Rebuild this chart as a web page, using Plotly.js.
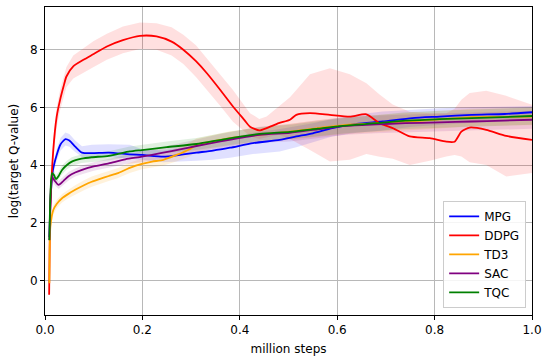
<!DOCTYPE html>
<html><head><meta charset="utf-8">
<script src="https://cdn.plot.ly/plotly-3.0.1.min.js"></script>
<style>html,body{margin:0;padding:0;background:#fff;}#chart{width:544px;height:356px;}</style>
</head><body><div id="chart"></div>
<script>
const seriesNames = ["MPG", "DDPG", "TD3", "SAC", "TQC"];
const lineColors = ["#0000ff", "#ff0000", "#ffa500", "#800080", "#008000"];
const bandColors = ["rgba(0,0,255,0.12)", "rgba(255,0,0,0.12)", "rgba(255,165,0,0.14)", "rgba(128,0,128,0.12)", "rgba(0,128,0,0.12)"];

// MPG
const mpgX  = [0.009, 0.012, 0.016, 0.024, 0.032, 0.042, 0.05, 0.062, 0.076, 0.096, 0.131, 0.174, 0.2, 0.243, 0.28, 0.311, 0.345, 0.38, 0.427, 0.482, 0.516, 0.55, 0.59, 0.64, 0.693, 0.754, 0.81, 0.876, 0.944, 1.0];
const mpgY  = [1.5, 3.0, 3.8, 4.35, 4.72, 4.9, 4.85, 4.64, 4.43, 4.41, 4.43, 4.37, 4.35, 4.29, 4.36, 4.43, 4.5, 4.6, 4.76, 4.87, 4.99, 5.10, 5.28, 5.43, 5.51, 5.63, 5.68, 5.74, 5.77, 5.83];
const mpgLo = [1.4, 2.8, 3.6, 4.15, 4.5, 4.68, 4.63, 4.45, 4.28, 4.28, 4.28, 4.22, 4.18, 4.1, 4.12, 4.15, 4.18, 4.25, 4.38, 4.47, 4.62, 4.78, 4.99, 5.12, 5.2, 5.33, 5.4, 5.47, 5.5, 5.55];
const mpgHi = [1.6, 3.2, 4.0, 4.55, 4.95, 5.13, 5.08, 4.85, 4.65, 4.7, 4.72, 4.7, 4.55, 4.5, 4.6, 4.72, 4.82, 4.95, 5.12, 5.25, 5.35, 5.45, 5.6, 5.75, 5.86, 5.93, 5.97, 6.0, 6.02, 6.05];

// DDPG
const ddpgX  = [0.0085, 0.011, 0.017, 0.024, 0.031, 0.038, 0.044, 0.058, 0.079, 0.1, 0.127, 0.16, 0.195, 0.229, 0.26, 0.284, 0.31, 0.332, 0.36, 0.386, 0.41, 0.421, 0.44, 0.455, 0.48, 0.503, 0.516, 0.544, 0.585, 0.626, 0.66, 0.687, 0.714, 0.749, 0.79, 0.824, 0.841, 0.855, 0.872, 0.906, 0.947, 1.0];
const ddpgY  = [-0.5, 2.5, 4.52, 5.68, 6.26, 6.72, 7.07, 7.42, 7.65, 7.85, 8.11, 8.33, 8.48, 8.46, 8.28, 8.0, 7.6, 7.19, 6.6, 6.03, 5.55, 5.33, 5.2, 5.28, 5.45, 5.57, 5.74, 5.80, 5.74, 5.68, 5.76, 5.45, 5.28, 4.99, 4.93, 4.81, 4.81, 5.16, 5.30, 5.22, 5.01, 4.87];
const ddpgLo = [-0.6, 2.3, 4.2, 5.3, 5.9, 6.35, 6.7, 7.0, 7.2, 7.4, 7.65, 7.88, 8.02, 8.0, 7.8, 7.5, 7.05, 6.6, 6.05, 5.5, 5.15, 5.0, 4.9, 4.95, 5.05, 4.9, 4.8, 4.52, 4.12, 4.18, 4.38, 4.29, 4.22, 4.0, 4.15, 4.3, 4.35, 4.3, 4.1, 4.0, 3.6, 3.72];
const ddpgHi = [-0.4, 2.8, 4.9, 6.0, 6.6, 7.05, 7.4, 7.8, 8.05, 8.3, 8.55, 8.8, 8.94, 8.92, 8.78, 8.52, 8.15, 7.71, 7.15, 6.6, 6.05, 5.8, 5.6, 5.68, 6.03, 6.35, 6.6, 7.15, 7.36, 7.15, 6.84, 6.45, 6.1, 5.85, 5.8, 5.8, 5.95, 6.26, 6.5, 6.58, 6.4, 6.09];

// TD3
const td3X  = [0.009, 0.0095, 0.011, 0.017, 0.024, 0.035, 0.048, 0.062, 0.08, 0.096, 0.113, 0.131, 0.15, 0.174, 0.199, 0.22, 0.243, 0.27, 0.297, 0.311, 0.345, 0.38, 0.441, 0.503, 0.56, 0.618, 0.68, 0.74, 0.81, 0.876, 0.94, 1.0];
const td3Y  = [-0.1, 1.0, 1.86, 2.44, 2.65, 2.85, 3.0, 3.14, 3.3, 3.42, 3.52, 3.62, 3.72, 3.9, 4.04, 4.12, 4.18, 4.35, 4.55, 4.70, 4.82, 4.93, 5.05, 5.16, 5.28, 5.39, 5.45, 5.51, 5.58, 5.66, 5.67, 5.68];
const td3Lo = [-0.2, 0.9, 1.7, 2.28, 2.5, 2.7, 2.85, 2.98, 3.13, 3.25, 3.35, 3.45, 3.55, 3.72, 3.85, 3.92, 3.98, 4.12, 4.3, 4.45, 4.57, 4.67, 4.78, 4.88, 4.98, 5.08, 5.14, 5.2, 5.27, 5.35, 5.37, 5.38];
const td3Hi = [0.0, 1.1, 2.0, 2.6, 2.8, 3.0, 3.15, 3.3, 3.47, 3.6, 3.7, 3.8, 3.9, 4.08, 4.23, 4.32, 4.4, 4.58, 4.78, 4.92, 5.05, 5.17, 5.3, 5.42, 5.55, 5.67, 5.74, 5.8, 5.87, 5.95, 5.97, 5.98];

// SAC
const sacX  = [0.009, 0.012, 0.0145, 0.02, 0.028, 0.038, 0.049, 0.062, 0.076, 0.1, 0.131, 0.165, 0.199, 0.24, 0.28, 0.311, 0.36, 0.441, 0.503, 0.56, 0.618, 0.68, 0.74, 0.81, 0.876, 0.94, 1.0];
const sacY  = [1.4, 3.2, 3.6, 3.45, 3.31, 3.45, 3.62, 3.74, 3.83, 3.95, 4.06, 4.2, 4.29, 4.42, 4.55, 4.66, 4.82, 5.05, 5.12, 5.24, 5.36, 5.41, 5.45, 5.48, 5.51, 5.54, 5.57];
const sacLo = [1.3, 3.05, 3.45, 3.3, 3.17, 3.3, 3.47, 3.6, 3.68, 3.8, 3.9, 4.03, 4.1, 4.22, 4.33, 4.42, 4.56, 4.77, 4.82, 4.93, 5.05, 5.1, 5.14, 5.17, 5.2, 5.23, 5.26];
const sacHi = [1.5, 3.35, 3.75, 3.6, 3.45, 3.6, 3.77, 3.88, 3.98, 4.1, 4.22, 4.37, 4.48, 4.62, 4.77, 4.9, 5.08, 5.33, 5.42, 5.55, 5.67, 5.72, 5.76, 5.79, 5.82, 5.85, 5.88];

// TQC
const tqcX  = [0.009, 0.011, 0.0144, 0.0185, 0.0226, 0.028, 0.035, 0.045, 0.055, 0.075, 0.096, 0.131, 0.174, 0.199, 0.25, 0.311, 0.37, 0.441, 0.503, 0.56, 0.618, 0.68, 0.74, 0.81, 0.876, 0.94, 1.0];
const tqcY  = [1.39, 2.9, 3.72, 3.65, 3.51, 3.62, 3.83, 4.0, 4.12, 4.22, 4.27, 4.32, 4.47, 4.52, 4.62, 4.73, 4.9, 5.08, 5.15, 5.26, 5.37, 5.45, 5.54, 5.59, 5.63, 5.66, 5.70];
const tqcLo = [1.3, 2.75, 3.57, 3.5, 3.37, 3.48, 3.68, 3.85, 3.97, 4.07, 4.12, 4.16, 4.3, 4.34, 4.42, 4.52, 4.67, 4.84, 4.9, 5.0, 5.1, 5.17, 5.25, 5.3, 5.34, 5.37, 5.4];
const tqcHi = [1.5, 3.05, 3.87, 3.8, 3.65, 3.76, 3.98, 4.15, 4.27, 4.37, 4.42, 4.48, 4.64, 4.7, 4.82, 4.94, 5.13, 5.32, 5.4, 5.52, 5.64, 5.73, 5.83, 5.88, 5.92, 5.95, 6.0];

const allX  = [mpgX, ddpgX, td3X, sacX, tqcX];
const allY  = [mpgY, ddpgY, td3Y, sacY, tqcY];
const allLo = [mpgLo, ddpgLo, td3Lo, sacLo, tqcLo];
const allHi = [mpgHi, ddpgHi, td3Hi, sacHi, tqcHi];

const traces = [];
for (let i = 0; i < seriesNames.length; i++) {
  const xs = allX[i];
  traces.push({
    x: xs.concat(xs.slice().reverse()),
    y: allHi[i].concat(allLo[i].slice().reverse()),
    type: 'scatter', mode: 'lines', fill: 'toself',
    fillcolor: bandColors[i], line: {width: 0, color: 'rgba(0,0,0,0)'},
    showlegend: false, hoverinfo: 'skip'
  });
}
for (let i = 0; i < seriesNames.length; i++) {
  traces.push({
    x: allX[i], y: allY[i], name: seriesNames[i],
    type: 'scatter', mode: 'lines',
    line: {color: lineColors[i], width: 1.8, shape: 'spline', smoothing: 0.6}
  });
}

const axisCommon = {
  showline: true, linecolor: '#000', linewidth: 1, mirror: true,
  ticks: 'outside', ticklen: 4, tickcolor: '#000', tickwidth: 1,
  showgrid: true, gridcolor: '#b8b8b8', gridwidth: 1, zeroline: false,
  tickfont: {family: 'DejaVu Sans', size: 12, color: '#000'}
};

const layout = {
  width: 544, height: 356,
  margin: {l: 45, r: 12, t: 7, b: 41},
  paper_bgcolor: '#fff', plot_bgcolor: '#fff',
  font: {family: 'DejaVu Sans', size: 12, color: '#000'},
  xaxis: Object.assign({}, axisCommon, {
    range: [0, 1.0], tickvals: [0, 0.2, 0.4, 0.6, 0.8, 1.0],
    ticktext: ['0.0', '0.2', '0.4', '0.6', '0.8', '1.0'],
    title: {text: 'million steps', font: {family: 'DejaVu Sans', size: 12}, standoff: 8}
  }),
  yaxis: Object.assign({}, axisCommon, {
    range: [-1.2, 9.48], tickvals: [0, 2, 4, 6, 8],
    title: {text: 'log(target Q-value)', font: {family: 'DejaVu Sans', size: 12}, standoff: 8}
  }),
  legend: {
    x: 0.988, y: 0.023, xanchor: 'right', yanchor: 'bottom',
    bgcolor: 'rgba(255,255,255,0.85)', bordercolor: '#cccccc', borderwidth: 1,
    font: {family: 'DejaVu Sans', size: 12, color: '#000'},
    itemwidth: 30, tracegroupgap: 0
  },
  showlegend: true
};

Plotly.newPlot('chart', traces, layout, {displayModeBar: false, staticPlot: true});
</script>
</body></html>
